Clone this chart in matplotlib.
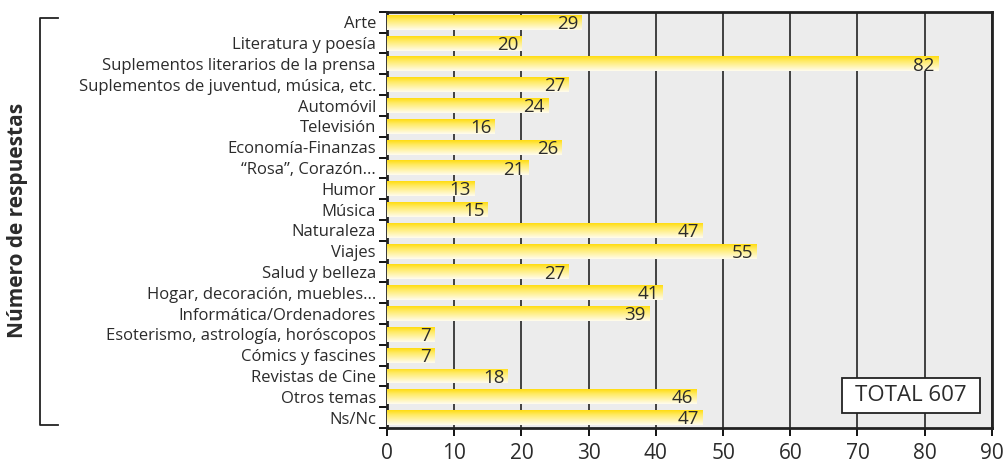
import numpy as np
import matplotlib.pyplot as plt
from matplotlib.colors import LinearSegmentedColormap
from matplotlib.patches import Rectangle

categories = [
    "Arte", "Literatura y poesía", "Suplementos literarios de la prensa",
    "Suplementos de juventud, música, etc.", "Automóvil", "Televisión",
    "Economía-Finanzas", "“Rosa”, Corazón...", "Humor", "Música",
    "Naturaleza", "Viajes", "Salud y belleza", "Hogar, decoración, muebles...",
    "Informática/Ordenadores", "Esoterismo, astrología, horóscopos",
    "Cómics y fascines", "Revistas de Cine", "Otros temas", "Ns/Nc",
]
values = [29, 20, 82, 27, 24, 16, 26, 21, 13, 15, 47, 55, 27, 41, 39, 7, 7, 18, 46, 47]
xticks = list(range(0, 100, 10))
total_label = "TOTAL 607"
ylabel = "Número de respuestas"

plt.rcParams['font.family'] = ['Open Sans', 'DejaVu Sans']
text_color = "#2b2b2b"

fig = plt.figure(figsize=(10.08, 4.66), dpi=100)
ax = fig.add_axes([0.384, 0.0815, 0.600, 0.893])
ax.set_facecolor("#ececec")

n = len(categories)
ypos = np.arange(n)
bars = ax.barh(ypos, values, height=0.72, color="none", zorder=3)

# yellow-to-cream vertical gradient inside each bar
cmap = LinearSegmentedColormap.from_list(
    "ygrad", [(0.0, "#ffdc10"), (0.3, "#ffea60"), (1.0, "#fffcee")])
grad = np.linspace(0, 1, 64).reshape(-1, 1)
for b in bars:
    x0, y0 = b.get_x(), b.get_y()
    w, h = b.get_width(), b.get_height()
    im = ax.imshow(grad, cmap=cmap, aspect="auto", extent=[x0, x0 + w, y0 + h, y0],
                   origin="upper", zorder=3, interpolation="bilinear")
    im.set_clip_path(b)

for y, v in zip(ypos, values):
    ax.text(v - 0.5, y + 0.08, str(v), ha="right", va="center",
            fontsize=13.5, color=text_color, zorder=4)

ax.set_xlim(0, 90)
ax.set_ylim(n - 0.5, -0.5)
ax.set_xticks(xticks)
ax.set_xticklabels([str(t) for t in xticks], fontsize=15, color=text_color)
ax.grid(axis="x", color="#333333", linewidth=1.3, zorder=1)
ax.set_axisbelow(True)

ax.set_yticks(ypos)
ax.set_yticklabels(categories, fontsize=12, color=text_color)
ax.set_yticks(np.arange(-0.5, n, 1), minor=True)
ax.tick_params(axis="y", which="major", length=0, pad=8)
ax.tick_params(axis="y", which="minor", length=6, width=1.3, direction="out")
ax.tick_params(axis="x", length=6, width=1.3, direction="out", pad=5)

for s in ax.spines.values():
    s.set_linewidth(2)
    s.set_color("#222222")

ax.add_patch(Rectangle((0.752, 0.036), 0.228, 0.084, transform=ax.transAxes,
                       facecolor="white", edgecolor="#222222", linewidth=1.3, zorder=5))
ax.text(0.866, 0.078, total_label, transform=ax.transAxes, ha="center", va="center",
        fontsize=16, color=text_color, zorder=6)

# bracket with the vertical label
fig.add_artist(plt.Line2D([58 / 1008, 40 / 1008, 40 / 1008, 58 / 1008],
                          [1 - 18 / 466, 1 - 18 / 466, 1 - 425 / 466, 1 - 425 / 466],
                          color="#222222", linewidth=1.3))
fig.text(18 / 1008, 1 - 220 / 466, ylabel, rotation=90, ha="center", va="center",
         fontsize=15, fontweight="bold", color=text_color)

fig.savefig("out.png", dpi=100)
